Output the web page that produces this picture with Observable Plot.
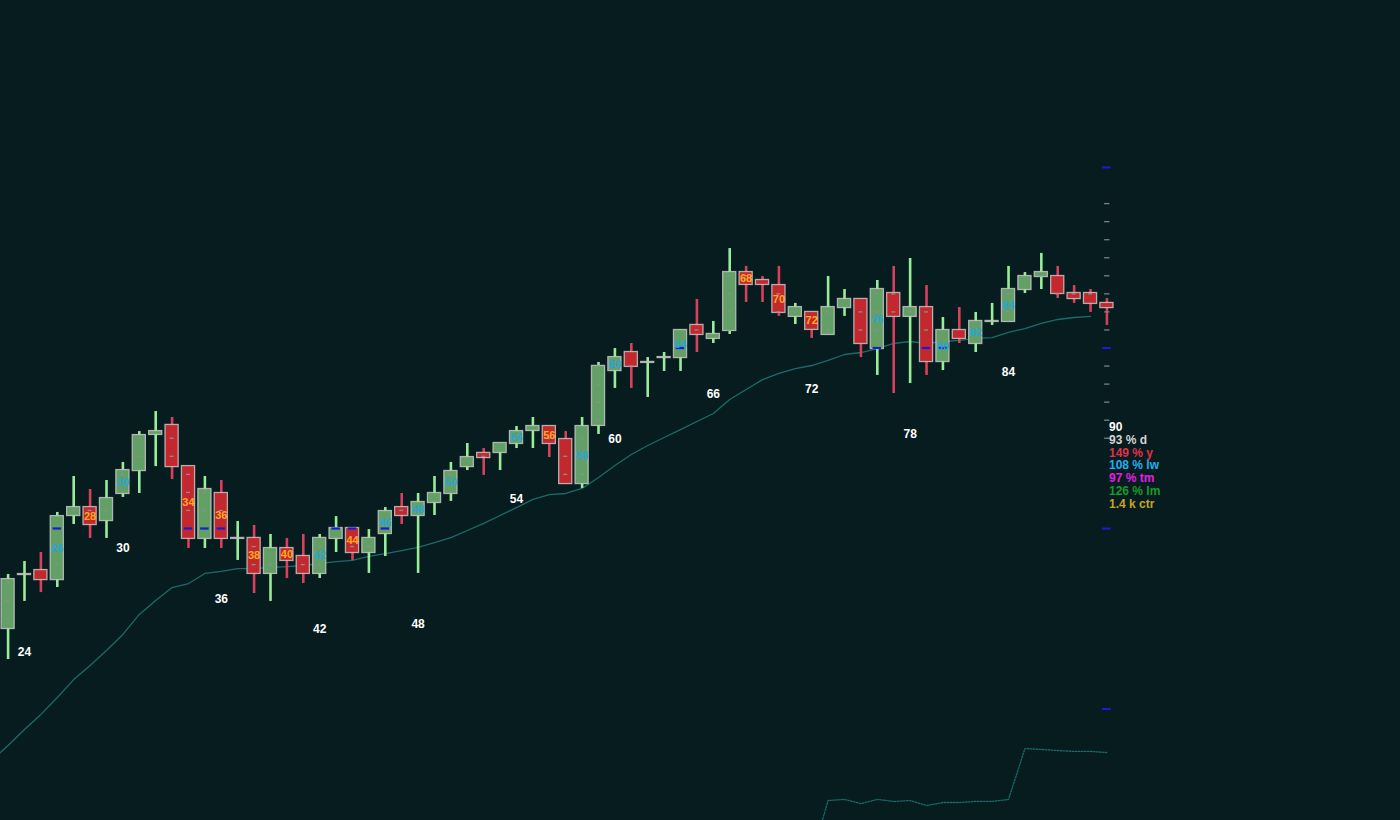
<!DOCTYPE html>
<html>
<head>
<meta charset="utf-8">
<script src="https://cdn.jsdelivr.net/npm/d3@7"></script>
<script src="https://cdn.jsdelivr.net/npm/@observablehq/plot@0.6"></script>
<style>
  html, body { margin: 0; padding: 0; background: #061c1e; }
  #wrap { position: relative; width: 1400px; height: 820px; overflow: hidden; }
  #legend { position: absolute; left: 1109px; top: 421px; font: bold 12px "Liberation Sans", Arial, sans-serif; line-height: 12.8px; white-space: nowrap; }
</style>
</head>
<body>
<div id="wrap"><div id="legend"></div></div>
<script>
// ---- data ----
const firstIndex = 23;
const openV  = [94.46, 97.45, 97.67, 97.17, 100.72, 101.16, 100.44, 101.94, 103.21, 105.21,
                105.71, 103.43, 99.45, 101.94, 99.45, 99.45, 97.51, 98.89, 98.45, 97.51,
                99.45, 100.00, 98.67, 99.72, 101.16, 100.72, 101.44, 101.94, 103.43, 104.16,
                104.21, 104.71, 105.43, 105.65, 104.93, 102.49, 105.71, 108.75, 109.75, 109.20,
                109.47, 109.47, 111.25, 110.53, 110.97, 114.18, 113.74, 113.46, 111.75, 111.97,
                110.75, 112.24, 112.69, 109.97, 113.02, 111.75, 112.24, 109.25, 110.97, 110.25,
                111.47, 111.47, 113.24, 113.96, 113.96, 113.02, 113.02, 112.47];
const closeV = [97.17, 97.45, 97.17, 100.66, 101.16, 100.22, 101.66, 103.21, 105.15, 105.37,
                103.43, 99.45, 102.16, 99.45, 99.45, 97.51, 98.89, 98.23, 97.51, 99.45,
                100.00, 98.67, 99.45, 100.94, 100.72, 101.44, 101.94, 103.16, 103.93, 103.93,
                104.71, 105.37, 105.65, 104.71, 102.49, 105.65, 108.98, 109.47, 108.98, 109.20,
                109.47, 110.97, 110.75, 110.75, 114.18, 113.52, 113.52, 111.97, 112.24, 111.03,
                112.24, 112.69, 110.25, 113.24, 111.75, 112.24, 109.25, 110.97, 110.53, 111.47,
                111.47, 113.24, 113.96, 114.18, 113.02, 112.74, 112.47, 112.24];
const highV  = [97.45, 98.17, 98.67, 100.89, 102.88, 102.16, 102.66, 103.66, 105.37, 106.48,
                106.15, 103.43, 102.88, 102.66, 100.39, 100.17, 99.67, 99.45, 99.67, 99.67,
                100.66, 100.00, 99.94, 101.16, 101.94, 101.94, 102.88, 103.66, 104.71, 104.43,
                104.71, 105.65, 106.15, 105.65, 105.37, 106.15, 109.20, 109.97, 110.25, 109.47,
                109.75, 110.97, 112.69, 111.47, 115.51, 114.52, 113.96, 114.52, 112.47, 111.97,
                113.96, 113.24, 112.69, 113.74, 114.52, 114.96, 113.46, 111.69, 112.24, 111.97,
                112.47, 114.52, 114.18, 115.24, 114.52, 113.46, 113.24, 112.74];
const lowV   = [92.74, 95.96, 96.45, 96.73, 100.22, 99.45, 99.45, 101.72, 101.94, 103.43,
                102.71, 98.89, 98.89, 98.89, 98.23, 96.40, 95.96, 97.23, 96.95, 97.23,
                98.67, 98.23, 97.51, 98.45, 100.22, 97.51, 100.72, 101.50, 103.21, 102.94,
                103.21, 104.43, 104.43, 103.93, 102.49, 102.22, 105.21, 107.76, 107.76, 107.26,
                108.70, 108.70, 109.75, 110.25, 110.75, 112.52, 112.52, 111.75, 111.30, 110.53,
                110.75, 111.75, 109.47, 108.48, 107.48, 108.03, 108.48, 108.75, 110.25, 109.75,
                111.25, 111.47, 113.02, 113.24, 112.74, 112.47, 111.97, 111.25];

// moving average, starting at index 22
const maStart = 22;
const maV = [87.15, 87.98, 88.86, 89.70, 90.64, 91.63, 92.41, 93.24, 94.13, 95.24,
             96.01, 96.73, 96.95, 97.51, 97.62, 97.78, 97.78, 97.84, 97.89, 97.95,
             98.06, 98.17, 98.23, 98.45, 98.61, 98.78, 98.95, 99.22, 99.50, 99.89,
             100.28, 100.72, 101.16, 101.61, 101.88, 101.94, 102.22, 102.83, 103.49, 104.10,
             104.60, 105.04, 105.48, 105.93, 106.37, 107.15, 107.70, 108.25, 108.59, 108.86,
             109.03, 109.31, 109.64, 109.75, 109.97, 110.25, 110.36, 110.25, 110.36, 110.42,
             110.53, 110.58, 110.86, 111.08, 111.36, 111.58, 111.69, 111.75];

// lower dotted indicator, starting at index 72
const lowerStart = 72;
const lowerV = [81.83, 84.93, 84.99, 84.76, 84.99, 84.88, 84.93, 84.65, 84.82, 84.82,
                84.88, 84.88, 84.99, 87.81, 87.76, 87.70, 87.65, 87.65, 87.59];

const bodyLabels = [26, 28, 30, 34, 36, 38, 40, 42, 44, 46, 48, 50, 54, 56, 58, 60, 64, 68, 70, 72, 76, 80, 82, 84];
const axisLabels = [24, 30, 36, 42, 48, 54, 60, 66, 72, 78, 84];
const minorTicks = [105, 106, 107, 108, 109, 111, 112, 113, 114, 115, 116, 117, 118];
const majorTicks = [90, 100, 110, 120];
const legendText  = ["90", "93 % d", "149 % y", "108 % lw", "97 % tm", "126 % lm", "1.4 k ctr"];
const legendColor = ["#ffffff", "#d4d4d4", "#e0314b", "#22aef0", "#e21fe2", "#1b9a2c", "#c9a424"];

// ---- derived tables ----
const candles = openV.map((o, k) => ({i: firstIndex + k, o, c: closeV[k], h: highV[k], l: lowV[k]}));
const up = candles.filter(d => d.c >= d.o);
const down = candles.filter(d => d.c < d.o);
const byIndex = new Map(candles.map(d => [d.i, d]));
const lastIndex = candles[candles.length - 1].i;
const maData = maV.map((v, k) => ({i: maStart + k, v}));
const lowerData = lowerV.map((v, k) => ({i: lowerStart + k, v}));
const dashes = [];
for (const d of candles) {
  const lo = Math.min(d.o, d.c), hi = Math.max(d.o, d.c);
  for (let lv = Math.ceil(lo - 0.02); lv <= hi + 0.02; lv++) dashes.push({i: d.i, y: lv, major: lv % 10 === 0});
}
const labUp = bodyLabels.map(i => byIndex.get(i)).filter(d => d.c >= d.o);
const labDown = bodyLabels.map(i => byIndex.get(i)).filter(d => d.c < d.o);
const axisData = axisLabels.map(i => byIndex.get(i));

const GREEN_BODY = "#62a065", GREEN_WICK = "#98ee98";
const RED_BODY = "#c4282f", RED_WICK = "#d9405c";
const BODY_STROKE = "#c4c4c4";
const TEAL = "#1b6b6c";
const FONT = "'Liberation Sans', Arial, sans-serif";

const chart = Plot.plot({
  width: 1400,
  height: 820,
  margin: 0,
  x: {domain: [22.537, 107.9], axis: null},
  y: {domain: [83.823, 129.252], axis: null},
  style: {background: "#061c1e", fontFamily: FONT, overflow: "hidden"},
  marks: [
    Plot.line(maData, {x: "i", y: "v", stroke: TEAL, strokeWidth: 1.3}),
    Plot.line(lowerData, {x: "i", y: "v", stroke: TEAL, strokeWidth: 1.3, strokeDasharray: "1.5 1.5"}),
    Plot.ruleX(up, {x: "i", y1: "l", y2: "h", stroke: GREEN_WICK, strokeWidth: 2.6}),
    Plot.ruleX(down, {x: "i", y1: "l", y2: "h", stroke: RED_WICK, strokeWidth: 2.6}),
    Plot.rect(up, {x1: d => d.i - 0.4, x2: d => d.i + 0.4, y1: "o", y2: "c", fill: GREEN_BODY,
      stroke: BODY_STROKE, strokeOpacity: 0.85, strokeWidth: 1.3, insetTop: -0.5, insetBottom: -0.5}),
    Plot.rect(down, {x1: d => d.i - 0.4, x2: d => d.i + 0.4, y1: "o", y2: "c", fill: RED_BODY,
      stroke: BODY_STROKE, strokeOpacity: 0.85, strokeWidth: 1.3, insetTop: -0.5, insetBottom: -0.5}),
    Plot.ruleY(dashes.filter(d => !d.major), {y: "y", x1: d => d.i - 0.12, x2: d => d.i + 0.12, stroke: "#8e8e8e", strokeWidth: 1.3}),
    Plot.ruleY(dashes.filter(d => d.major), {y: "y", x1: d => d.i - 0.26, x2: d => d.i + 0.26, stroke: "#1a1ad8", strokeWidth: 2.2}),
    Plot.text(labUp, {x: "i", y: d => (d.o + d.c) / 2, text: d => String(d.i), fill: "#29a3d8", fontSize: 11, fontWeight: "bold"}),
    Plot.text(labDown, {x: "i", y: d => (d.o + d.c) / 2, text: d => String(d.i), fill: "#ffaa1c", fontSize: 11, fontWeight: "bold"}),
    Plot.text(axisData, {x: "i", y: "l", dy: 51, text: d => String(d.i), fill: "#ffffff", fontSize: 12, fontWeight: "bold"}),
    Plot.ruleY(minorTicks, {y: d => d, x1: () => lastIndex + 0.02 - 0.16, x2: () => lastIndex + 0.02 + 0.16, stroke: "#7a8585", strokeWidth: 1.3}),
    Plot.ruleY(majorTicks, {y: d => d, x1: () => lastIndex - 0.27, x2: () => lastIndex + 0.27, stroke: "#1a1ad8", strokeWidth: 2})
  ]
});
document.getElementById("wrap").prepend(chart);
const leg = document.getElementById("legend");
legendText.forEach((t, k) => {
  const div = document.createElement("div");
  div.textContent = t;
  div.style.color = legendColor[k];
  leg.appendChild(div);
});
</script>
</body>
</html>
